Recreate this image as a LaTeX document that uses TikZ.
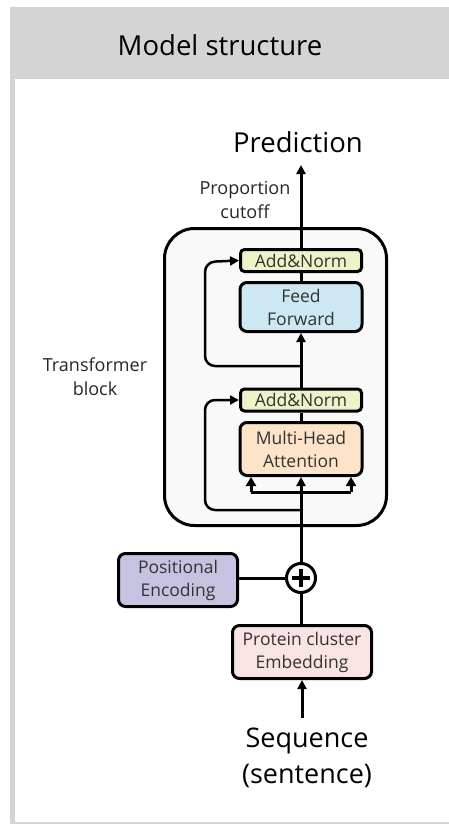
\documentclass[tikz,border=0pt]{standalone}
\usepackage{fontspec}
\setmainfont{Open Sans}
\usetikzlibrary{arrows.meta}
\definecolor{framegray}{HTML}{D4D4D4}
\definecolor{blockfill}{HTML}{F9F9F9}
\definecolor{normfill}{HTML}{EFF2C8}
\definecolor{fffill}{HTML}{CDE7F3}
\definecolor{mhafill}{HTML}{FDE3C8}
\definecolor{pefill}{HTML}{C6C3E1}
\definecolor{embfill}{HTML}{F9E3E3}
\begin{document}
\begin{tikzpicture}[x=1pt,y=-1pt,
  unit/.style={draw=black, line width=3pt, rounded corners=7pt, align=center,
    inner sep=0pt, font=\fontsize{17.5}{23}\selectfont, text=black!80},
  normbox/.style={unit, fill=normfill, rounded corners=4pt, minimum width=121pt, minimum height=22pt},
  flow/.style={line width=3pt},
  skip/.style={line width=2.5pt, rounded corners=10pt},
  tip/.style={-{Triangle[length=9pt,width=9pt]}},
  forktip/.style={-{Triangle[length=9pt,width=10pt]}},
  label/.style={align=center, font=\fontsize{18}{24}\selectfont, text=black!85},
]
\useasboundingbox (0,0) rectangle (449,824);
% frame: header band, left strip, bottom rule
\fill[framegray] (10,7) rectangle (449,79);
\fill[framegray] (10,79) rectangle (15,824);
\fill[framegray] (10,822) rectangle (449,824);
\node[font=\fontsize{27.5}{30}\selectfont] (title) at (220,45) {Model structure};

% transformer block container
\node[draw=black, line width=3pt, rounded corners=30pt, fill=blockfill,
  minimum width=222pt, minimum height=297pt, inner sep=0pt] (tblock) at (275.5,377) {};

% layers
\node[normbox] (addtop) at (301,260.5) {Add\&Norm};
\node[unit, fill=fffill, minimum width=122pt, minimum height=49pt] (ff) at (301,307) {Feed\\Forward};
\node[normbox] (addbot) at (301,400) {Add\&Norm};
\node[unit, fill=mhafill, minimum width=122pt, minimum height=53pt] (mha) at (301,449) {Multi-Head\\Attention};
\node[circle, draw=black, line width=3pt, fill=white, minimum size=29pt, inner sep=0pt] (plus) at (301,578) {};
\node[unit, fill=pefill, minimum width=119pt, minimum height=53pt] (pe) at (178,580) {Positional\\Encoding};
\node[unit, fill=embfill, minimum width=139pt, minimum height=53pt] (emb) at (302,652) {Protein cluster\\Embedding};

% plus sign inside the summation circle
\draw[line width=3.5pt] ([yshift=-9pt]plus.center) -- ([yshift=9pt]plus.center);
\draw[line width=3.5pt] ([xshift=-9pt]plus.center) -- ([xshift=9pt]plus.center);

% texts
\node[font=\fontsize{27.5}{30}\selectfont] (pred) at (298,142) {Prediction};
\node[label] (cutoff) at (245,200) {Proportion\\cutoff};
\node[label] (tblabel) at (95,377) {Transformer\\block};
\node[align=center, font=\fontsize{27}{36}\selectfont] (seq) at (307,758) {Sequence\\(sentence)};

% free ends of connectors
\coordinate (seqin) at (302,718);
\coordinate (predout) at (301,165);
\coordinate (forkL) at (251,492);
\coordinate (forkR) at (351,492);
\coordinate (skipbot) at (301,510);
\coordinate (skiptop) at (301,366);

% data flow
\draw[flow, tip] (seqin) -- (emb.south);
\draw[flow] (emb.north -| plus.south) -- (plus.south);
\draw[flow] (pe.east |- plus.west) -- (plus.west);
\draw[flow, tip] (plus.north) -- (mha.south);
\draw[flow] (forkL) -- (forkR);
\draw[flow, forktip] (forkL) -- (forkL |- mha.south);
\draw[flow, forktip] (forkR) -- (forkR |- mha.south);
\draw[flow] (mha.north) -- (addbot.south);
\draw[flow, tip] (addbot.north) -- (ff.south);
\draw[flow] (ff.north) -- (addtop.south);
\draw[flow, tip] (addtop.north) -- (predout);

% residual connections
\draw[skip, tip] (skipbot) -- (205,510) -- (205,400) -- (addbot.west);
\draw[skip, tip] (skiptop) -- (205,366) -- (205,262) -- (addtop.west);
\end{tikzpicture}
\end{document}
